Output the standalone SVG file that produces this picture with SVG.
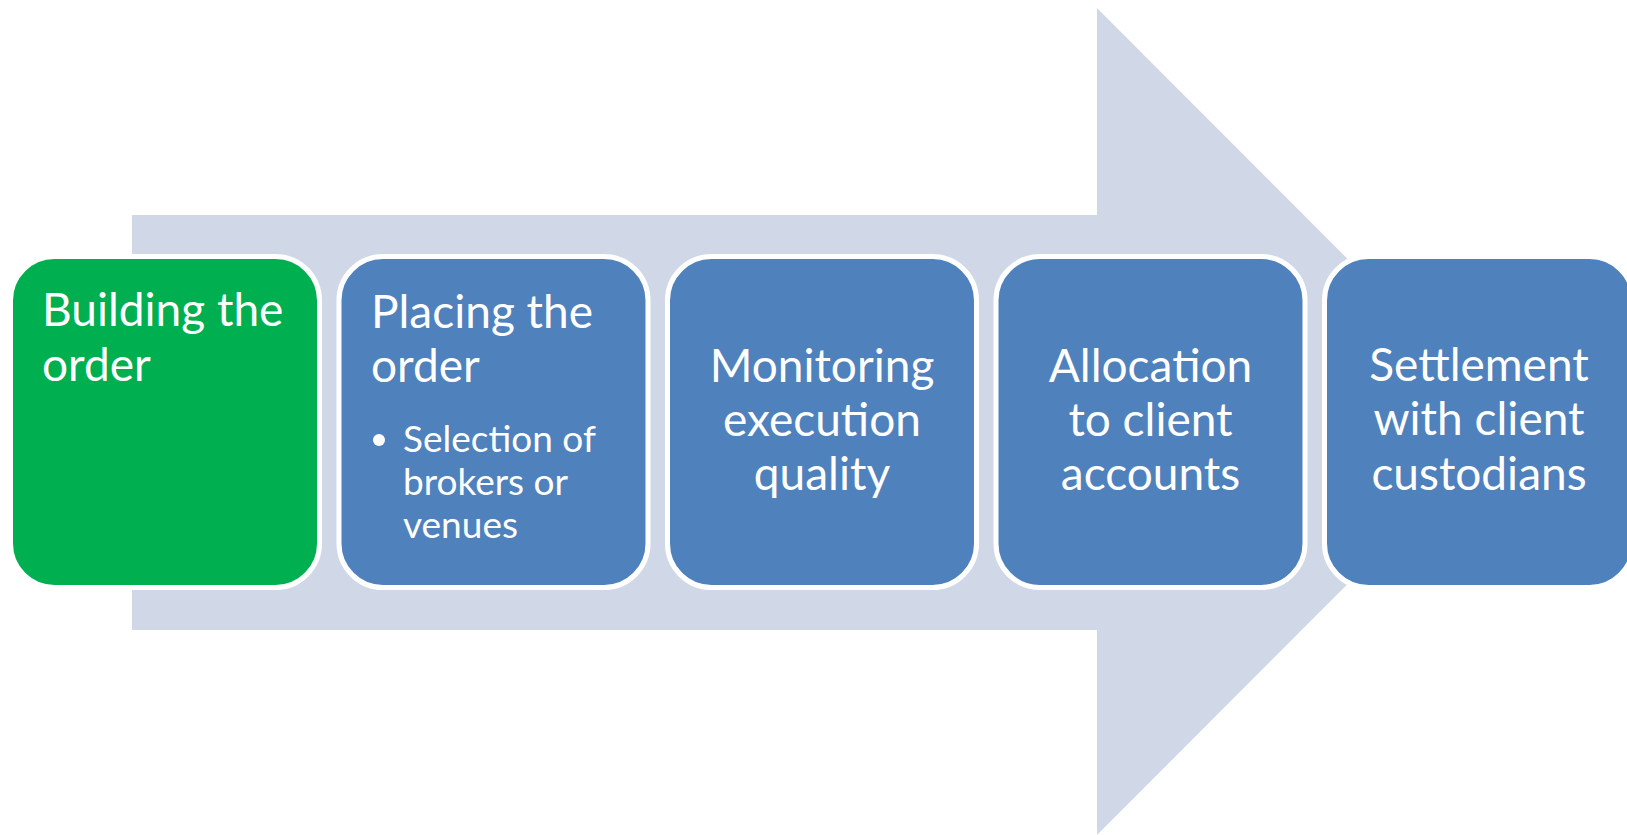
<svg xmlns="http://www.w3.org/2000/svg" width="1627" height="835" viewBox="0 0 1627 835">
<style>
.box{stroke:#FFFFFF;stroke-width:5}
.g{fill:#00B050}
.b{fill:#4F81BD}
.t{font-family:Lato,"Liberation Sans",sans-serif;fill:#FFFFFF;font-size:46px}
.s{font-size:37px}
.c{text-anchor:middle}
</style>
<rect width="1627" height="835" fill="#FFFFFF"/>
<g id="arrow">
<polygon points="132,215 1097,215 1097,8 1510,421.5 1097,835 1097,630 132,630" fill="#D0D8E8"/>
</g>
<g id="connectors"></g>
<g id="node1">
<rect class="box g" x="10.5" y="256.5" width="309" height="331" rx="44"/>
<text class="t" x="42" y="326">Building the</text>
<text class="t" x="42" y="381">order</text>
</g>
<g id="node2">
<rect class="box b" x="339" y="256.5" width="309" height="331" rx="44"/>
<text class="t" x="371" y="328">Placing the</text>
<text class="t" x="371" y="382">order</text>
<circle cx="379" cy="440" r="6" fill="#FFFFFF"/>
<text class="t s" x="403" y="452">Selection of</text>
<text class="t s" x="403" y="495">brokers or</text>
<text class="t s" x="403" y="538">venues</text>
</g>
<g id="node3">
<rect class="box b" x="667.5" y="256.5" width="309" height="331" rx="44"/>
<text class="t c" x="822" y="381.5">Monitoring</text>
<text class="t c" x="822" y="435.5">execution</text>
<text class="t c" x="822" y="489.5">quality</text>
</g>
<g id="node4">
<rect class="box b" x="996" y="256.5" width="309" height="331" rx="44"/>
<text class="t c" x="1150.5" y="381.5">Allocation</text>
<text class="t c" x="1150.5" y="435.5">to client</text>
<text class="t c" x="1150.5" y="489.5">accounts</text>
</g>
<g id="node5">
<rect class="box b" x="1324.5" y="256.5" width="309" height="331" rx="44"/>
<text class="t c" x="1479" y="381">Settlement</text>
<text class="t c" x="1479" y="435">with client</text>
<text class="t c" x="1479" y="490">custodians</text>
</g>
</svg>
